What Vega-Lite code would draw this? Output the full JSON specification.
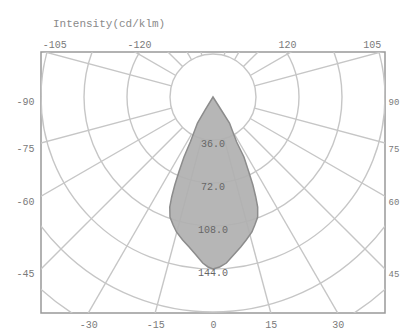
{
  "$schema": "https://vega.github.io/schema/vega-lite/v6.json",
  "width": 344,
  "height": 261,
  "autosize": {"type": "none"},
  "padding": {"left": 41, "top": 52, "right": 16, "bottom": 18},
  "background": "white",
  "title": {"text": "Intensity(cd/klm)", "anchor": "start", "frame": "group", "dx": 12, "offset": 10, "font": "Liberation Mono", "fontSize": 11, "fontWeight": "normal", "color": "#8a8a8a"},
  "config": {
    "view": {"stroke": "#999", "strokeWidth": 1.5},
    "axis": {"domain": false, "ticks": false, "grid": false, "title": null, "labelFont": "Liberation Mono", "labelFontSize": 10, "labelColor": "#7a7a7a"}
  },
  "datasets": {
    "rings": [{"v": 36}, {"v": 72}, {"v": 108}, {"v": 144}, {"v": 180}, {"v": 216}],
    "spokes": [
      {"a": 15, "x1": 9.32, "y1": 34.77, "x2": 77.65, "y2": 289.8},
      {"a": 30, "x1": 18, "y1": 31.18, "x2": 150, "y2": 259.8},
      {"a": 45, "x1": 25.46, "y1": 25.46, "x2": 212.1, "y2": 212.1},
      {"a": 60, "x1": 31.18, "y1": 18, "x2": 259.8, "y2": 150},
      {"a": 75, "x1": 34.77, "y1": 9.32, "x2": 289.8, "y2": 77.65},
      {"a": 105, "x1": 34.77, "y1": -9.32, "x2": 289.8, "y2": -77.65},
      {"a": 120, "x1": 31.18, "y1": -18, "x2": 259.8, "y2": -150},
      {"a": 135, "x1": 25.46, "y1": -25.46, "x2": 212.1, "y2": -212.1},
      {"a": 150, "x1": 18, "y1": -31.18, "x2": 150, "y2": -259.8},
      {"a": 165, "x1": 9.32, "y1": -34.77, "x2": 77.65, "y2": -289.8},
      {"a": -15, "x1": -9.32, "y1": 34.77, "x2": -77.65, "y2": 289.8},
      {"a": -30, "x1": -18, "y1": 31.18, "x2": -150, "y2": 259.8},
      {"a": -45, "x1": -25.46, "y1": 25.46, "x2": -212.1, "y2": 212.1},
      {"a": -60, "x1": -31.18, "y1": 18, "x2": -259.8, "y2": 150},
      {"a": -75, "x1": -34.77, "y1": 9.32, "x2": -289.8, "y2": 77.65},
      {"a": -105, "x1": -34.77, "y1": -9.32, "x2": -289.8, "y2": -77.65},
      {"a": -120, "x1": -31.18, "y1": -18, "x2": -259.8, "y2": -150},
      {"a": -135, "x1": -25.46, "y1": -25.46, "x2": -212.1, "y2": -212.1},
      {"a": -150, "x1": -18, "y1": -31.18, "x2": -150, "y2": -259.8},
      {"a": -165, "x1": -9.32, "y1": -34.77, "x2": -77.65, "y2": -289.8}
    ],
    "shape": [
      {"d": 0, "left": 0, "right": 0},
      {"d": 10.9, "left": -6.7, "right": 6.9},
      {"d": 21.8, "left": -13.0, "right": 13.8},
      {"d": 37.7, "left": -19.0, "right": 19.8},
      {"d": 50.2, "left": -24.3, "right": 25.9},
      {"d": 62.8, "left": -28.6, "right": 30.0},
      {"d": 73.7, "left": -32.0, "right": 33.4},
      {"d": 83.7, "left": -34.6, "right": 35.8},
      {"d": 92.1, "left": -36.2, "right": 37.4},
      {"d": 100.5, "left": -36.0, "right": 37.4},
      {"d": 107.2, "left": -33.4, "right": 35.0},
      {"d": 113.0, "left": -30.6, "right": 32.6},
      {"d": 119.7, "left": -25.4, "right": 27.8},
      {"d": 125.6, "left": -20.0, "right": 23.2},
      {"d": 132.3, "left": -14.2, "right": 17.2},
      {"d": 139.0, "left": -8.6, "right": 11.2},
      {"d": 142.3, "left": -4.2, "right": 5.6},
      {"d": 144.0, "left": 0, "right": 0}
    ],
    "ringlabels": [
      {"v": 36, "label": "36.0"},
      {"v": 72, "label": "72.0"},
      {"v": 108, "label": "108.0"},
      {"v": 144, "label": "144.0"}
    ]
  },
  "resolve": {"axis": {"x": "independent", "y": "independent"}},
  "layer": [
    {
      "data": {"name": "rings"},
      "mark": {"type": "point", "shape": "circle", "filled": false, "stroke": "#c6c6c6", "strokeWidth": 1.4, "opacity": 1, "clip": true},
      "encoding": {
        "x": {"datum": 0, "type": "quantitative", "scale": {"domain": [-144, 144], "nice": false, "zero": false}, "axis": {"orient": "bottom", "values": [-104.4, -48.45, 0, 48.45, 104.4], "labelPadding": 6, "labelExpr": "datum.value < -80 ? '-30' : datum.value < -20 ? '-15' : datum.value < 20 ? '0' : datum.value < 80 ? '15' : '30'"}},
        "y": {"datum": 0, "type": "quantitative", "scale": {"domain": [-37.674, 180.84], "reverse": true, "nice": false, "zero": false}, "axis": {"orient": "left", "values": [0, 38.6, 83.1, 144], "labelPadding": 7, "labelOffset": 5, "labelExpr": "datum.value < 10 ? '-90' : datum.value < 50 ? '-75' : datum.value < 100 ? '-60' : '-45'"}},
        "size": {"field": "v", "type": "quantitative", "scale": {"type": "pow", "exponent": 2, "domain": [0, 216], "range": [0, 266256], "zero": true, "nice": false}, "legend": null}
      }
    },
    {
      "data": {"name": "spokes"},
      "mark": {"type": "rule", "stroke": "#c6c6c6", "strokeWidth": 1.4, "clip": true},
      "encoding": {
        "x": {"field": "x1", "type": "quantitative", "scale": {"domain": [-144, 144], "nice": false, "zero": false}, "axis": {"orient": "top", "values": [-133, -62, 62, 133], "labelPadding": 3, "labelExpr": "datum.value < -100 ? '-105' : datum.value < 0 ? '-120' : datum.value < 100 ? '120' : '105'"}},
        "y": {"field": "y1", "type": "quantitative", "scale": {"domain": [-37.674, 180.84], "reverse": true, "nice": false, "zero": false}, "axis": {"orient": "right", "values": [0, 38.6, 83.1, 144], "labelPadding": 3, "labelOffset": 5, "labelFontSize": 9, "labelAlign": "left", "labelExpr": "datum.value < 10 ? '90' : datum.value < 50 ? '75' : datum.value < 100 ? '60' : '45'"}},
        "x2": {"field": "x2"},
        "y2": {"field": "y2"}
      }
    },
    {
      "mark": {"type": "rule", "stroke": "#9a9a9a", "strokeWidth": 1.2},
      "encoding": {"y": {"datum": 0, "type": "quantitative", "scale": {"domain": [-37.674, 180.84], "reverse": true, "nice": false, "zero": false}, "axis": null}}
    },
    {
      "mark": {"type": "rule", "stroke": "#9a9a9a", "strokeWidth": 1.2},
      "encoding": {"x": {"datum": 0, "type": "quantitative", "scale": {"domain": [-144, 144], "nice": false, "zero": false}, "axis": null}}
    },
    {
      "data": {"name": "shape"},
      "mark": {"type": "area", "orient": "horizontal", "fill": "#b0b0b0", "fillOpacity": 0.92, "stroke": "#8c8c8c", "strokeWidth": 1.5},
      "encoding": {
        "y": {"field": "d", "type": "quantitative", "sort": null, "scale": {"domain": [-37.674, 180.84], "reverse": true, "nice": false, "zero": false}, "axis": null},
        "x": {"field": "left", "type": "quantitative", "scale": {"domain": [-144, 144], "nice": false, "zero": false}, "axis": null},
        "x2": {"field": "right"}
      }
    },
    {
      "data": {"name": "ringlabels"},
      "mark": {"type": "text", "font": "Liberation Mono", "fontSize": 10, "fill": "#666", "baseline": "middle", "align": "center", "dy": 4},
      "encoding": {
        "y": {"field": "v", "type": "quantitative", "scale": {"domain": [-37.674, 180.84], "reverse": true, "nice": false, "zero": false}, "axis": null},
        "x": {"datum": 0, "type": "quantitative", "scale": {"domain": [-144, 144], "nice": false, "zero": false}, "axis": null},
        "text": {"field": "label"}
      }
    }
  ]
}
